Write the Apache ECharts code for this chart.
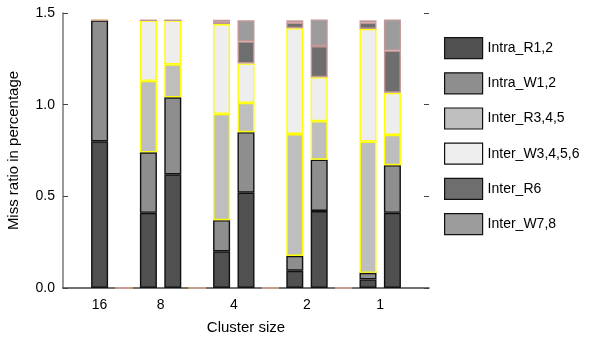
<!DOCTYPE html>
<html><head><meta charset="utf-8">
<script src="https://cdn.jsdelivr.net/npm/echarts@6/dist/echarts.min.js"></script>
<style>html,body{margin:0;padding:0;background:#fff}#c{width:591px;height:339px}</style>
</head><body><div id="c"></div>
<script>
// 15 slots: padding, 16, gap, 8a, 8b, gap, 4a, 4b, gap, 2a, 2b, gap, 1a, 1b, padding
var slots = ['p0','16','g1','8a','8b','g2','4a','4b','g3','2a','2b','g4','1a','1b','p1'];
var groupLabels = ['16','8','4','2','1'];
var groupLabelPos = [1.5, 4, 7, 10, 13];
var yTicks = [0, 0.5, 1.0, 1.5];
var seriesNames = ['Intra_R1,2','Intra_W1,2','Inter_R3,4,5','Inter_W3,4,5,6','Inter_R6','Inter_W7,8'];
var intraR   = ['-', 0.80, 0, 0.41, 0.62, 0, 0.20, 0.52, 0, 0.094, 0.42, 0, 0.047, 0.41, '-'];
var intraW   = ['-', 0.66, 0, 0.33, 0.42, 0, 0.17, 0.33, 0, 0.081, 0.28, 0, 0.036, 0.26, '-'];
var interR   = ['-', 0,    0, 0.39, 0.18, 0, 0.58, 0.16, 0, 0.665, 0.21, 0, 0.715, 0.165, '-'];
var interW   = ['-', 0,    0, 0.33, 0.24, 0, 0.49, 0.215, 0, 0.577, 0.24, 0, 0.615, 0.23, '-'];
var interR6  = ['-', 0,    0, 0,    0,    0, 0.015, 0.12, 0, 0.03, 0.17, 0, 0.035, 0.23, '-'];
var interW78 = ['-', 0,    0, 0,    0,    0, 0.008, 0.115, 0, 0.013, 0.145, 0, 0.012, 0.17, '-'];

var values = [intraR, intraW, interR, interW, interR6, interW78];
var fills = ['#505050','#8e8e8e','#bebebe','#eeeeee','#6e6e6e','#9c9c9c'];
var borders = ['#111111','#111111','#ffff00','#ffff00','#c29696','#c29696'];

var font = 'Liberation Sans, Arial, sans-serif';
var chart = echarts.init(document.getElementById('c'), null, {renderer:'canvas'});
var series = seriesNames.map(function(n, i){
  return {
    name: n, type: 'bar', stack: 'all', xAxisIndex: 0, yAxisIndex: 0,
    barWidth: 17, data: values[i],
    itemStyle: {color: fills[i], borderColor: borders[i], borderWidth: 1.4},
    emphasis: {disabled: true}, animation: false
  };
});
chart.setOption({
  animation: false,
  grid: {left: 63, right: 162, top: 13, bottom: 51, containLabel: false, outerBoundsMode: 'none'},
  legend: {
    orient: 'vertical', left: 439, top: 32, itemWidth: 38, itemHeight: 21, itemGap: 13,
    icon: 'rect',
    textStyle: {fontFamily: font, fontSize: 14, color: '#000', padding: [0,0,0,0]},
    data: seriesNames.map(function(n, i){ return {name: n, itemStyle: {color: fills[i], borderColor: '#111', borderWidth: 1.2}}; })
  },
  xAxis: [
    {type: 'category', data: slots, position: 'bottom',
     axisLine: {lineStyle: {color: '#444', width: 1.5}}, axisTick: {show: false}, axisLabel: {show: false}},
    {type: 'value', min: 0, max: 15, interval: 0.5, position: 'bottom',
     name: 'Cluster size', nameLocation: 'middle', nameGap: 32,
     nameTextStyle: {fontFamily: font, fontSize: 15, color: '#000'},
     axisLine: {show: false}, axisTick: {show: false}, splitLine: {show: false},
     axisLabel: {fontFamily: font, fontSize: 14, color: '#000', margin: 10, showMinLabel: true, showMaxLabel: true,
       formatter: function(v){ var k = groupLabelPos.indexOf(v); return k >= 0 ? groupLabels[k] : ''; }}}
  ],
  yAxis: [
    {type: 'value', min: 0, max: 1.5, interval: 0.5, position: 'left',
     name: 'Miss ratio in percentage', nameLocation: 'middle', nameGap: 42,
     nameTextStyle: {fontFamily: font, fontSize: 15, color: '#000'},
     axisLine: {show: true, lineStyle: {color: '#777', width: 1.5}},
     axisTick: {show: true, inside: true, length: 5, lineStyle: {color: '#444'}},
     splitLine: {show: false},
     axisLabel: {fontFamily: font, fontSize: 14, color: '#000', margin: 8, formatter: function(v){ return v.toFixed(1); }}},
    {type: 'value', min: 0, max: 1.5, interval: 0.5, position: 'right',
     axisLine: {show: false}, axisTick: {show: true, inside: true, length: 5, lineStyle: {color: '#444'}},
     splitLine: {show: false}, axisLabel: {show: false}}
  ],
  series: series
});
</script></body></html>
